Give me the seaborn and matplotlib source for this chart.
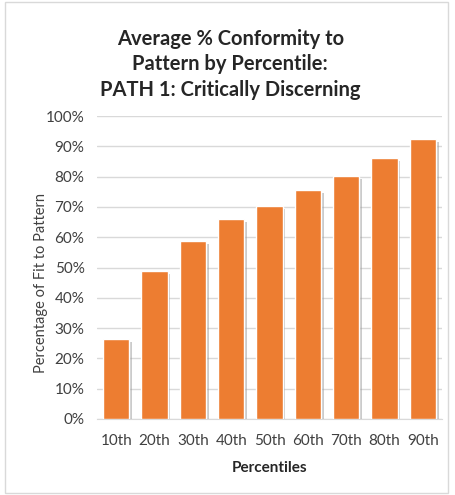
import pandas as pd
import seaborn as sns
import matplotlib.pyplot as plt
import matplotlib.patheffects as pe
from matplotlib.patches import Rectangle
from matplotlib.ticker import PercentFormatter

percentiles = ['10th', '20th', '30th', '40th', '50th', '60th', '70th', '80th', '90th']
conformity = [26.4, 48.8, 58.7, 66.0, 70.3, 75.6, 80.2, 86.1, 92.4]

sns.set_style('white')
plt.rcParams['font.family'] = ['Lato', 'DejaVu Sans']

df = pd.DataFrame({'Percentile': percentiles, 'Conformity': conformity})

fig = plt.figure(figsize=(4.56, 4.95), dpi=100)
ax = fig.add_axes([97 / 456, 1 - 419 / 495, 345 / 456, 303 / 495])

sns.barplot(data=df, x='Percentile', y='Conformity', color='#ED7D31',
            saturation=1, width=0.68, ax=ax, zorder=3)
for bar in ax.patches:
    bar.set_path_effects([pe.SimplePatchShadow(offset=(2, -2), shadow_rgbFace='#999999', alpha=0.5),
                          pe.Normal()])

ax.set_ylim(0, 100)
ax.set_yticks(range(0, 101, 10))
ax.yaxis.set_major_formatter(PercentFormatter(decimals=0))
ax.grid(axis='y', color='#D9D9D9', linewidth=1, zorder=0)
for s in ['top', 'right', 'left']:
    ax.spines[s].set_visible(False)
ax.spines['bottom'].set_color('#D9D9D9')
ax.tick_params(axis='both', length=0, labelsize=11, colors='#404040')
ax.tick_params(axis='x', pad=11)
ax.tick_params(axis='y', pad=9)

ax.set_xlabel('Percentiles', fontsize=11, fontweight='bold', labelpad=9)
ax.set_ylabel('Percentage of Fit to Pattern', fontsize=10.5, color='#404040')
ax.yaxis.set_label_coords(-0.142, 0.45)

fig.text(0.505, 0.87, 'Average % Conformity to\nPattern by Percentile:\nPATH 1: Critically Discerning',
         ha='center', va='center', fontsize=14.5, fontweight='bold', linespacing=1.35)

fig.patches.append(Rectangle((5 / 456, 0.005), 443 / 456, 0.99, transform=fig.transFigure,
                             fill=False, edgecolor='#D9D9D9', linewidth=1))

fig.savefig('out.png', dpi=100)
